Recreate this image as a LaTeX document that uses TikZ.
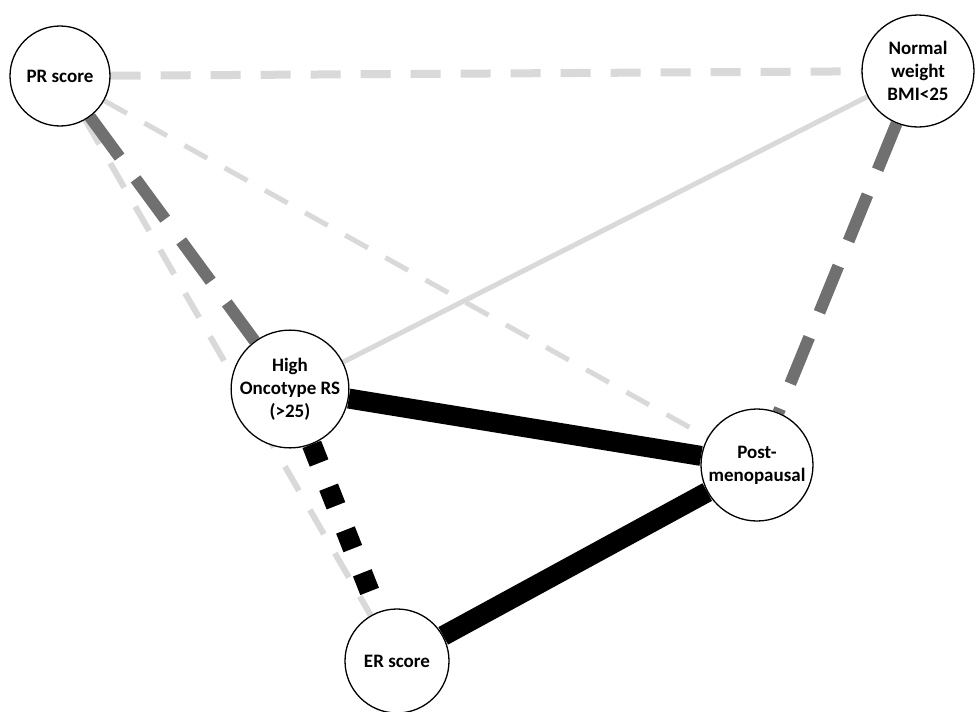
\documentclass[tikz,border=0pt]{standalone}
\usepackage{fontspec}
\setmainfont{Carlito}
\usetikzlibrary{backgrounds}
\definecolor{lightedge}{HTML}{D9D9D9}
\definecolor{darkedge}{HTML}{707070}

\tikzset{
    var/.style={draw, circle, fill=white, line width=1.3pt, inner sep=0pt, align=center,
        font=\fontsize{19}{23}\selectfont\bfseries},
    weakpos/.style={lightedge, line width=5pt},
    weakneg/.style={lightedge, line width=6pt, dash pattern=on 28pt off 22pt},
    midneg/.style={darkedge, line width=12pt, dash pattern=on 50pt off 27pt},
    strongpos/.style={black, line width=20pt},
    strongneg/.style={black, line width=20pt, dash pattern=on 20pt off 26pt}
}

\begin{document}
\begin{tikzpicture}[x=1pt, y=-1pt]
    \useasboundingbox (0,0) rectangle (977,712);

    % variables
    \node[var, minimum size=100pt] (PR) at (60,76) {PR score};
    \node[var, minimum size=112pt] (NW) at (918,71) {Normal\\weight\\BMI<25};
    \node[var, minimum size=106pt] (HO) at (290,389) {High\\Oncotype RS\\(>25)};
    \node[var, minimum size=112pt] (PM) at (757,465) {Post-\\menopausal};
    \node[var, minimum size=104pt] (ER) at (397,661) {ER score};

    % associations
    \begin{scope}[on background layer]
    \draw[weakneg, line width=8pt, dash pattern=on 30pt off 20pt] (PR) -- (NW);
    \draw[weakneg, line width=5pt, dash pattern=on 26pt off 20pt] (PR) -- (PM);
    \draw[weakneg] (PR) -- (ER);
    \draw[midneg] (PR) -- (HO);
    \draw[midneg] (NW) -- (PM);
    \draw[weakpos] (NW) -- (HO);
    \draw[strongpos] (HO) -- (PM);
    \draw[strongpos] (PM) -- (ER);
    \draw[strongneg] (HO) -- (ER);
    \end{scope}
\end{tikzpicture}
\end{document}
